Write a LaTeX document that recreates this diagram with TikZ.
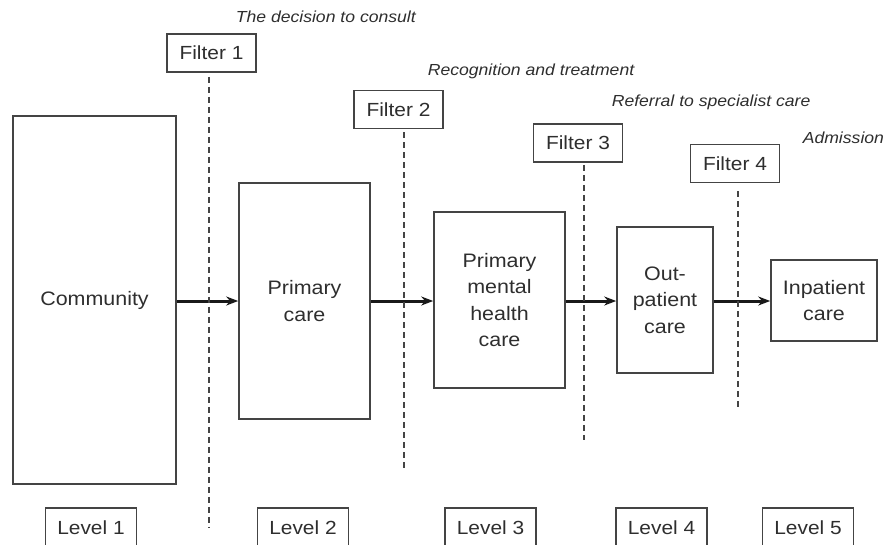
\documentclass[tikz,border=0pt]{standalone}
\usepackage{fontspec}
\setmainfont{Liberation Sans}[FakeStretch=1.1]
\usetikzlibrary{arrows.meta}
\definecolor{ink}{HTML}{2e2e2e}
\definecolor{edge}{HTML}{444444}
\begin{document}
\begin{tikzpicture}[x=1pt,y=-1pt,
        line width=1.6pt, draw=edge, text=ink,
        carebox/.style={draw=edge, align=center, inner sep=2pt, font=\fontsize{19.5}{26.5}\selectfont},
        filterbox/.style={draw=edge, minimum width=89pt, minimum height=38pt, inner sep=0pt, font=\fontsize{19}{22}\selectfont},
        levelbox/.style={draw=edge, minimum width=91pt, minimum height=40pt, inner sep=0pt, font=\fontsize{19}{22}\selectfont},
        stagetext/.style={anchor=west, inner sep=0pt, font=\fontsize{16}{19}\selectfont\itshape},
        filterline/.style={draw=edge, line width=1.5pt, dash pattern=on 6pt off 4pt},
        flow/.style={draw=black!90, -{Stealth[length=12pt,width=9pt]}, line width=3pt}]
        \useasboundingbox (0,0) rectangle (891,544);
        \clip (0,0) rectangle (891,544);

        % Care settings
        \node[carebox, minimum width=163pt, minimum height=368pt] (community) at (94.5,300) {Community};
        \node[carebox, minimum width=131pt, minimum height=236pt] (primary) at (304.5,301) {Primary\\care};
        \node[carebox, minimum width=131pt, minimum height=176pt] (mental) at (499.5,300) {Primary\\mental\\health\\care};
        \node[carebox, minimum width=96pt, minimum height=146pt] (outpatient) at (665,300) {Out-\\patient\\care};
        \node[carebox, minimum width=106pt, minimum height=81pt] (inpatient) at (824,300.5) {Inpatient\\care};

        % Flow between settings
        \draw[flow] (community.east |- 0,301) -- (primary.west |- 0,301);
        \draw[flow] (primary.east |- 0,301) -- (mental.west |- 0,301);
        \draw[flow] (mental.east |- 0,301) -- (outpatient.west |- 0,301);
        \draw[flow] (outpatient.east |- 0,301) -- (inpatient.west |- 0,301);

        % Filters with dashed lines
        \node[filterbox] (f1) at (211.5,53) {Filter 1};
        \node[filterbox] (f2) at (398.5,109.5) {Filter 2};
        \node[filterbox] (f3) at (578,143) {Filter 3};
        \node[filterbox] (f4) at (735,163.5) {Filter 4};
        \coordinate (d1) at (209,528);
        \coordinate (d2) at (404,468);
        \coordinate (d3) at (584,440);
        \coordinate (d4) at (738,410);
        \draw[filterline] (d1 |- f1.south) ++(0,4) -- (d1);
        \draw[filterline] (d2 |- f2.south) ++(0,3) -- (d2);
        \draw[filterline] (d3 |- f3.south) ++(0,2) -- (d3);
        \draw[filterline] (d4 |- f4.south) ++(0,8) -- (d4);

        % Stage labels
        \node[stagetext] (s1) at (235,17) {The decision to consult};
        \node[stagetext] (s2) at (427,71) {Recognition and treatment};
        \node[stagetext] (s3) at (611,102) {Referral to specialist care};
        \node[stagetext] (s4) at (802,138) {Admission};

        % Levels
        \node[levelbox] (l1) at (91,528) {Level 1};
        \node[levelbox] (l2) at (303,528) {Level 2};
        \node[levelbox] (l3) at (490.5,528) {Level 3};
        \node[levelbox] (l4) at (661.5,528) {Level 4};
        \node[levelbox] (l5) at (808,528) {Level 5};
    \end{tikzpicture}
\end{document}
